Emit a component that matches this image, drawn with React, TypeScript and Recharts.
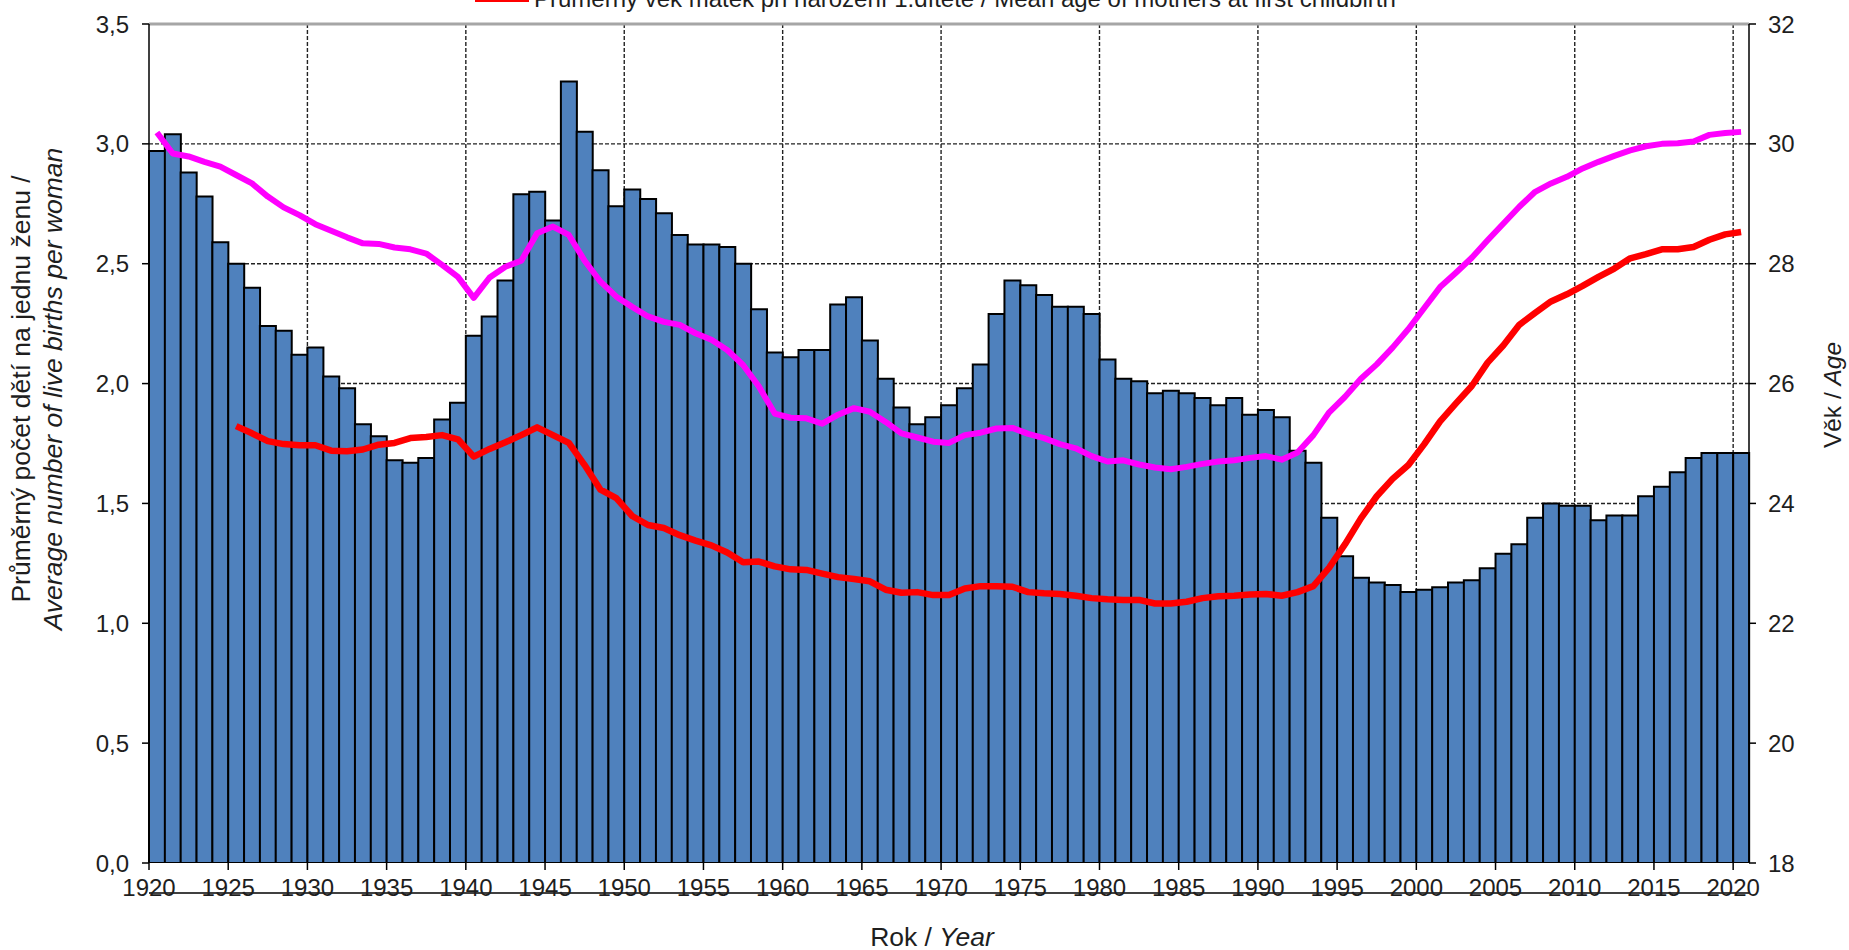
import React from 'react';
import { ComposedChart, Bar, Line, XAxis, YAxis, CartesianGrid, Legend, Label, ReferenceLine } from 'recharts';

const FONT = '"Liberation Sans", Arial, sans-serif';
const TEXT = '#1e1e1e';

const years = [
  1920, 1921, 1922, 1923, 1924, 1925, 1926, 1927, 1928, 1929,
  1930, 1931, 1932, 1933, 1934, 1935, 1936, 1937, 1938, 1939,
  1940, 1941, 1942, 1943, 1944, 1945, 1946, 1947, 1948, 1949,
  1950, 1951, 1952, 1953, 1954, 1955, 1956, 1957, 1958, 1959,
  1960, 1961, 1962, 1963, 1964, 1965, 1966, 1967, 1968, 1969,
  1970, 1971, 1972, 1973, 1974, 1975, 1976, 1977, 1978, 1979,
  1980, 1981, 1982, 1983, 1984, 1985, 1986, 1987, 1988, 1989,
  1990, 1991, 1992, 1993, 1994, 1995, 1996, 1997, 1998, 1999,
  2000, 2001, 2002, 2003, 2004, 2005, 2006, 2007, 2008, 2009,
  2010, 2011, 2012, 2013, 2014, 2015, 2016, 2017, 2018, 2019,
  2020,
];

// Total fertility rate (left axis)
const tfr = [
  2.97, 3.04, 2.88, 2.78, 2.59, 2.50, 2.40, 2.24, 2.22, 2.12,
  2.15, 2.03, 1.98, 1.83, 1.78, 1.68, 1.67, 1.69, 1.85, 1.92,
  2.20, 2.28, 2.43, 2.79, 2.80, 2.68, 3.26, 3.05, 2.89, 2.74,
  2.81, 2.77, 2.71, 2.62, 2.58, 2.58, 2.57, 2.50, 2.31, 2.13,
  2.11, 2.14, 2.14, 2.33, 2.36, 2.18, 2.02, 1.90, 1.83, 1.86,
  1.91, 1.98, 2.08, 2.29, 2.43, 2.41, 2.37, 2.32, 2.32, 2.29,
  2.10, 2.02, 2.01, 1.96, 1.97, 1.96, 1.94, 1.91, 1.94, 1.87,
  1.89, 1.86, 1.72, 1.67, 1.44, 1.28, 1.19, 1.17, 1.16, 1.13,
  1.14, 1.15, 1.17, 1.18, 1.23, 1.29, 1.33, 1.44, 1.50, 1.49,
  1.49, 1.43, 1.45, 1.45, 1.53, 1.57, 1.63, 1.69, 1.71, 1.71,
  1.71,
];

// Mean age of mothers at childbirth (right axis, magenta)
const ageAll = [
  30.19, 29.84, 29.79, 29.70, 29.62, 29.48, 29.34, 29.12, 28.94, 28.81,
  28.66, 28.55, 28.44, 28.34, 28.33, 28.27, 28.24, 28.17, 27.98, 27.78,
  27.43, 27.77, 27.95, 28.05, 28.51, 28.62, 28.48, 28.05, 27.70, 27.45,
  27.28, 27.12, 27.03, 26.98, 26.84, 26.73, 26.56, 26.31, 25.95, 25.50,
  25.43, 25.42, 25.33, 25.48, 25.59, 25.53, 25.36, 25.17, 25.10, 25.03,
  25.01, 25.14, 25.18, 25.25, 25.26, 25.16, 25.09, 24.99, 24.92, 24.79,
  24.70, 24.72, 24.65, 24.60, 24.57, 24.61, 24.66, 24.70, 24.72, 24.76,
  24.79, 24.73, 24.85, 25.14, 25.52, 25.78, 26.08, 26.32, 26.60, 26.91,
  27.26, 27.61, 27.85, 28.10, 28.39, 28.67, 28.95, 29.20, 29.34, 29.45,
  29.59, 29.70, 29.80, 29.89, 29.96, 30.00, 30.01, 30.04, 30.15, 30.18,
  30.20,
];

// Mean age of mothers at first childbirth (right axis, red)
const ageFirst = [
  null, null, null, null, null, 25.29, 25.17, 25.04, 24.99, 24.97,
  24.97, 24.88, 24.87, 24.90, 24.98, 25.01, 25.09, 25.11, 25.14, 25.07,
  24.78, 24.91, 25.02, 25.14, 25.27, 25.14, 25.01, 24.64, 24.23, 24.09,
  23.79, 23.64, 23.59, 23.47, 23.38, 23.30, 23.18, 23.02, 23.03, 22.95,
  22.90, 22.89, 22.83, 22.77, 22.74, 22.70, 22.56, 22.51, 22.52, 22.47,
  22.47, 22.58, 22.62, 22.62, 22.61, 22.52, 22.50, 22.49, 22.46, 22.42,
  22.40, 22.39, 22.39, 22.33, 22.33, 22.36, 22.42, 22.45, 22.46, 22.48,
  22.49, 22.46, 22.52, 22.62, 22.93, 23.32, 23.75, 24.12, 24.41, 24.64,
  24.99, 25.37, 25.67, 25.96, 26.35, 26.64, 26.98, 27.18, 27.37, 27.49,
  27.63, 27.78, 27.92, 28.09, 28.16, 28.24, 28.24, 28.28, 28.40, 28.49,
  28.53,
];

const yearTicks = [1920, 1925, 1930, 1935, 1940, 1945, 1950, 1955, 1960, 1965, 1970, 1975, 1980, 1985, 1990, 1995, 2000, 2005, 2010, 2015, 2020];
const gridYears = [1930, 1940, 1950, 1960, 1970, 1980, 1990, 2000, 2010, 2020];
const leftTicks = [0, 0.5, 1, 1.5, 2, 2.5, 3, 3.5];
const gridLevels = [0.5, 1, 1.5, 2, 2.5, 3];
const rightTicks = [18, 20, 22, 24, 26, 28, 30, 32];

const legendLabel = 'Průměrný věk matek při narození 1.dítěte / Mean age of mothers at first childbirth';

const data = years.map((year, i) => ({
  year,
  tfr: tfr[i],
  ageAll: ageAll[i],
  ageFirst: ageFirst[i],
}));

const tickStyle = { fontSize: 24, fill: TEXT, fontFamily: FONT };

// x-axis tick: short tick mark below the axis line plus the year label
const YearTick = (props: any) => {
  const { x, payload } = props;
  return (
    <g>
      <line x1={x} x2={x} y1={863} y2={870} stroke="#000" strokeWidth={1.5} />
      <text x={x} y={896} textAnchor="middle" fontFamily={FONT} fontSize={24} fill={TEXT}>
        {payload.value}
      </text>
    </g>
  );
};

const LeftTitle = () => (
  <g fontFamily={FONT} fontSize={26.5} fill={TEXT}>
    <text transform="translate(21,389) rotate(-90)" textAnchor="middle" dominantBaseline="central">
      Průměrný počet dětí na jednu ženu /
    </text>
    <text transform="translate(53,389) rotate(-90)" textAnchor="middle" dominantBaseline="central" fontStyle="italic">
      Average number of live births per woman
    </text>
  </g>
);

const RightTitle = () => (
  <text transform="translate(1832,395) rotate(-90)" textAnchor="middle" dominantBaseline="central" fontFamily={FONT} fontSize={24.5} fill={TEXT}>
    Věk / <tspan fontStyle="italic">Age</tspan>
  </text>
);

const BottomTitle = () => (
  <text x={932} y={937} textAnchor="middle" dominantBaseline="central" fontFamily={FONT} fontSize={26.5} fill={TEXT}>
    Rok / <tspan fontStyle="italic">Year</tspan>
  </text>
);

const LegendContent = () => (
  <div style={{ display: 'flex', alignItems: 'center', whiteSpace: 'nowrap', fontFamily: FONT, fontSize: 24, lineHeight: '24px', color: TEXT }}>
    <span style={{ display: 'inline-block', width: 54, height: 5, background: '#ff0000', marginRight: 5 }} />
    <span>{legendLabel}</span>
  </div>
);

export default function App() {
  return (
    <div style={{ position: 'absolute', left: 0, top: 0, width: 1849, height: 950, background: '#fff' }}>
      <ComposedChart
        width={1849}
        height={950}
        data={data}
        margin={{ top: 24, right: 0, bottom: 37, left: 0 }}
        barCategoryGap={0}
        barGap={0}
      >
        <XAxis xAxisId="cat" dataKey="year" type="category" hide />
        <XAxis
          xAxisId="yr"
          dataKey="year"
          type="number"
          domain={[1920, 2021]}
          ticks={yearTicks}
          interval={0}
          allowDataOverflow
          height={50}
          axisLine={{ stroke: '#000', strokeWidth: 1.5 }}
          tickLine={false}
          tick={<YearTick />}
        >
          <Label content={BottomTitle} />
        </XAxis>
        <YAxis
          yAxisId="left"
          orientation="left"
          domain={[0, 3.5]}
          ticks={leftTicks}
          interval={0}
          allowDataOverflow
          width={149}
          tickFormatter={(v: number) => v.toFixed(1).replace('.', ',')}
          axisLine={{ stroke: '#000', strokeWidth: 1.5 }}
          tickLine={{ stroke: '#000', strokeWidth: 1.5 }}
          tickSize={7}
          tickMargin={13}
          tick={tickStyle}
        >
          <Label content={LeftTitle} />
        </YAxis>
        <YAxis
          yAxisId="right"
          orientation="right"
          domain={[18, 32]}
          ticks={rightTicks}
          interval={0}
          allowDataOverflow
          width={100}
          axisLine={{ stroke: '#000', strokeWidth: 1.5 }}
          tickLine={{ stroke: '#000', strokeWidth: 1.5 }}
          tickSize={7}
          tickMargin={12}
          tick={tickStyle}
        >
          <Label content={RightTitle} />
        </YAxis>
        <CartesianGrid
          xAxisId="yr"
          yAxisId="left"
          verticalValues={gridYears}
          horizontalValues={gridLevels}
          stroke="#222"
          strokeWidth={1.4}
          strokeDasharray="4 2"
        />
        <ReferenceLine xAxisId="yr" yAxisId="left" y={3.5} stroke="#a6a6a6" strokeWidth={3} />
        <Bar xAxisId="cat" yAxisId="left" dataKey="tfr" fill="#4f81bd" stroke="#000" strokeWidth={2} isAnimationActive={false} />
        <Line xAxisId="cat" yAxisId="right" dataKey="ageAll" stroke="#ff00ff" strokeWidth={6} dot={false} type="linear" strokeLinejoin="round" isAnimationActive={false} />
        <Line xAxisId="cat" yAxisId="right" dataKey="ageFirst" stroke="#ff0000" strokeWidth={6.5} dot={false} type="linear" strokeLinejoin="round" isAnimationActive={false} />
        <Legend
          layout="horizontal"
          verticalAlign="middle"
          align="center"
          content={LegendContent}
          wrapperStyle={{ left: 475, top: -13, width: 'auto' }}
        />
      </ComposedChart>
    </div>
  );
}
